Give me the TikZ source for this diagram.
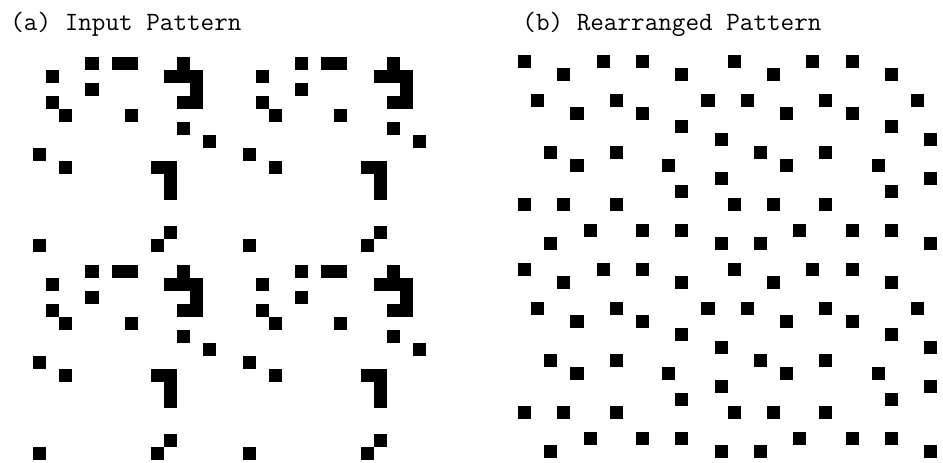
\documentclass[tikz,border=0pt]{standalone}
\usepackage{tikz}
\usetikzlibrary{positioning}

\begin{document}
\begin{tikzpicture}[
      x=0.5pt, y=-0.5pt,
      every node/.style={font=\ttfamily\fontsize{13.2}{15}\selectfont,
                         anchor=base west, inner sep=0pt},
      cell/.style={fill=black},
    ]
    \useasboundingbox (0,0) rectangle (943,462);
    % Titles
    \node (ta) at (10,30)  {(a) Input Pattern};
    \node (tb) at (522,30) {(b) Rearranged Pattern};
    % (a) one 16x16 tile, repeated 2x2
    \foreach \ti in {0,1} {
      \foreach \tj in {0,1} {
        \foreach \cx/\cy in {4/1,6/1,7/1,11/1, 1/2,10/2,11/2,12/2, 4/3,12/3,
                             1/4,11/4,12/4, 2/5,7/5, 11/6, 13/7, 0/8,
                             2/9,9/9,10/9, 10/10, 10/11, 10/14, 0/15,9/15}
          \fill[cell] ({33+13.1*(16*\ti+\cx)},{44+13*(16*\tj+\cy)}) rectangle ++(13.1,13);
      }
    }
    % (b) same cells, rearranged
    \foreach \ti in {0,1} {
      \foreach \tj in {0,1} {
        \foreach \cx/\cy in {0/1,6/1,9/1, 3/2,12/2, 1/4,7/4,14/4, 4/5,9/5,
                             12/6, 15/7, 2/8,7/8, 4/9,11/9, 15/10, 12/11,
                             0/12,3/12,7/12, 5/14,9/14,12/14, 2/15,15/15}
          \fill[cell] ({518+13.1*(16*\ti+\cx)},{42+13*(16*\tj+\cy)}) rectangle ++(13.1,13);
      }
    }
\end{tikzpicture}
\end{document}
